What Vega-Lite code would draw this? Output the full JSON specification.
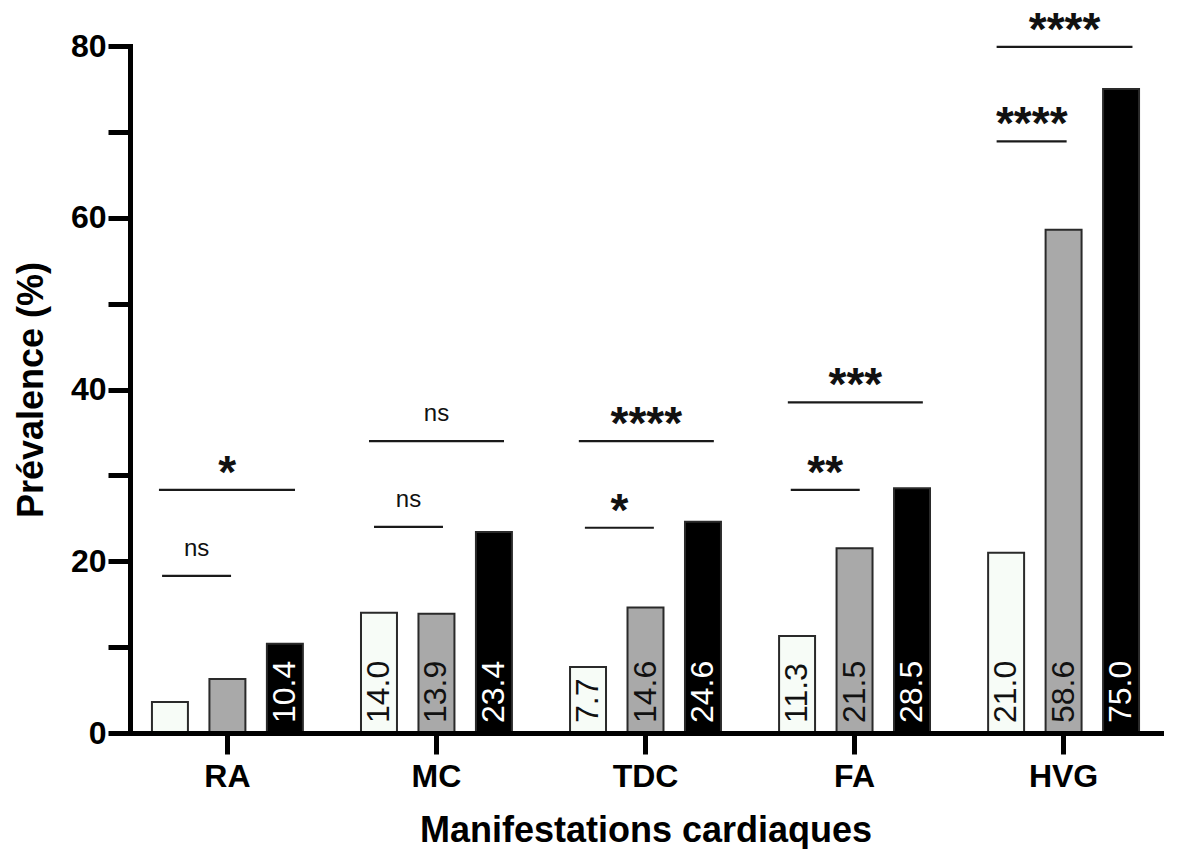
{
  "$schema": "https://vega.github.io/schema/vega-lite/v6.json",
  "width": 1031,
  "height": 687,
  "autosize": "none",
  "padding": {"left": 130, "top": 46, "right": 25, "bottom": 116},
  "background": "white",
  "config": {"view": {"stroke": null}, "font": "Liberation Sans"},
  "datasets": {
    "barres": [
      {"manifestation": "RA", "groupe": "G1", "prevalence": 3.6},
      {"manifestation": "RA", "groupe": "G2", "prevalence": 6.3},
      {"manifestation": "RA", "groupe": "G3", "prevalence": 10.4},
      {"manifestation": "MC", "groupe": "G1", "prevalence": 14.0},
      {"manifestation": "MC", "groupe": "G2", "prevalence": 13.9},
      {"manifestation": "MC", "groupe": "G3", "prevalence": 23.4},
      {"manifestation": "TDC", "groupe": "G1", "prevalence": 7.7},
      {"manifestation": "TDC", "groupe": "G2", "prevalence": 14.6},
      {"manifestation": "TDC", "groupe": "G3", "prevalence": 24.6},
      {"manifestation": "FA", "groupe": "G1", "prevalence": 11.3},
      {"manifestation": "FA", "groupe": "G2", "prevalence": 21.5},
      {"manifestation": "FA", "groupe": "G3", "prevalence": 28.5},
      {"manifestation": "HVG", "groupe": "G1", "prevalence": 21.0},
      {"manifestation": "HVG", "groupe": "G2", "prevalence": 58.6},
      {"manifestation": "HVG", "groupe": "G3", "prevalence": 75.0}
    ],
    "signif": [
      {"manifestation": "RA", "debut": -0.313, "fin": 0.017, "centre": -0.148, "niveau": 18.3, "label": "ns"},
      {"manifestation": "RA", "debut": -0.328, "fin": 0.323, "centre": -0.002, "niveau": 28.3, "label": "*"},
      {"manifestation": "MC", "debut": 0.701, "fin": 1.031, "centre": 0.866, "niveau": 24.0, "label": "ns"},
      {"manifestation": "MC", "debut": 0.677, "fin": 1.323, "centre": 1.0, "niveau": 34.0, "label": "ns"},
      {"manifestation": "TDC", "debut": 1.71, "fin": 2.04, "centre": 1.875, "niveau": 23.9, "label": "*"},
      {"manifestation": "TDC", "debut": 1.681, "fin": 2.327, "centre": 2.004, "niveau": 34.0, "label": "****"},
      {"manifestation": "FA", "debut": 2.695, "fin": 3.025, "centre": 2.86, "niveau": 28.3, "label": "**"},
      {"manifestation": "FA", "debut": 2.681, "fin": 3.327, "centre": 3.004, "niveau": 38.5, "label": "***"},
      {"manifestation": "HVG", "debut": 3.68, "fin": 4.015, "centre": 3.848, "niveau": 68.9, "label": "****"},
      {"manifestation": "HVG", "debut": 3.68, "fin": 4.33, "centre": 4.005, "niveau": 79.9, "label": "****"}
    ]
  },
  "layer": [
    {
      "data": {"name": "barres"},
      "layer": [
        {
          "mark": {"type": "bar", "stroke": "#2a2a2a", "strokeWidth": 2},
          "encoding": {
            "x": {
              "field": "manifestation", "type": "nominal",
              "sort": ["RA", "MC", "TDC", "FA", "HVG"],
              "scale": {"paddingInner": 0.278, "paddingOuter": 0.105},
              "axis": {
                "title": "Manifestations cardiaques",
                "labelAngle": 0,
                "domainWidth": 5, "domainColor": "black", "domainCap": "square",
                "tickWidth": 5, "tickColor": "black", "tickSize": 21,
                "labelFont": "Liberation Sans", "labelFontWeight": "bold", "labelFontSize": 32, "labelColor": "black", "labelPadding": 7,
                "titleFont": "Liberation Sans", "titleFontWeight": "bold", "titleFontSize": 36, "titleColor": "black", "titlePadding": 21,
                "zindex": 2
              }
            },
            "xOffset": {
              "field": "groupe", "type": "nominal",
              "scale": {"domain": ["G1", "G2", "G3"], "paddingInner": 0.374, "paddingOuter": 0}
            },
            "y": {
              "field": "prevalence", "type": "quantitative",
              "scale": {"domain": [0, 80], "nice": false},
              "axis": {
                "title": "Prévalence (%)",
                "values": [0, 10, 20, 30, 40, 50, 60, 70, 80],
                "labelExpr": "datum.value % 20 === 0 ? datum.label : ''",
                "grid": false,
                "domainWidth": 5, "domainColor": "black", "domainCap": "square",
                "tickWidth": 5, "tickColor": "black", "tickSize": 22,
                "labelFont": "Liberation Sans", "labelFontWeight": "bold", "labelFontSize": 32, "labelColor": "black", "labelPadding": 2,
                "titleFont": "Liberation Sans", "titleFontWeight": "bold", "titleFontSize": 36, "titleColor": "black", "titlePadding": 20,
                "zindex": 2,
                "encode": {"ticks": {"update": {"x2": {"signal": "datum.value % 20 === 0 ? -22 : -13"}}}}
              }
            },
            "fill": {
              "field": "groupe", "type": "nominal",
              "scale": {"domain": ["G1", "G2", "G3"], "range": ["#f7fcf7", "#a9a9a9", "#000000"]},
              "legend": null
            }
          }
        },
        {
          "transform": [{"filter": "datum.prevalence >= 7"}],
          "mark": {"type": "text", "angle": 270, "align": "left", "baseline": "middle", "yOffset": -10, "font": "Liberation Sans Narrow, Arial Narrow, Liberation Sans", "fontSize": 32},
          "encoding": {
            "x": {"field": "manifestation", "type": "nominal", "sort": ["RA", "MC", "TDC", "FA", "HVG"]},
            "xOffset": {"field": "groupe", "type": "nominal", "scale": {"domain": ["G1", "G2", "G3"]}},
            "y": {"datum": 0, "type": "quantitative"},
            "text": {"field": "prevalence", "type": "quantitative", "format": ".1f"},
            "color": {"condition": {"test": "datum.groupe === 'G3'", "value": "white"}, "value": "#111111"}
          }
        }
      ]
    },
    {
      "data": {"name": "signif"},
      "layer": [
        {
          "mark": {"type": "rule", "strokeWidth": 2.2, "color": "#1a1a1a"},
          "encoding": {
            "x": {"field": "debut", "type": "quantitative", "scale": {"domain": [-0.4665, 4.4665], "nice": false, "zero": false}, "axis": null},
            "x2": {"field": "fin"},
            "y": {"field": "niveau", "type": "quantitative", "title": "Prévalence (%)"}
          }
        },
        {
          "transform": [{"filter": "datum.label === 'ns'"}],
          "mark": {"type": "text", "baseline": "alphabetic", "align": "center", "yOffset": -20, "fontSize": 24, "font": "Liberation Sans", "color": "#111111"},
          "encoding": {
            "x": {"field": "centre", "type": "quantitative", "scale": {"domain": [-0.4665, 4.4665], "nice": false, "zero": false}, "axis": null},
            "y": {"field": "niveau", "type": "quantitative", "title": "Prévalence (%)"},
            "text": {"field": "label"}
          }
        },
        {
          "transform": [{"filter": "datum.label !== 'ns'"}],
          "mark": {"type": "text", "baseline": "alphabetic", "align": "center", "yOffset": -2, "fontSize": 46, "fontWeight": "bold", "font": "Liberation Sans", "color": "#111111"},
          "encoding": {
            "x": {"field": "centre", "type": "quantitative", "scale": {"domain": [-0.4665, 4.4665], "nice": false, "zero": false}, "axis": null},
            "y": {"field": "niveau", "type": "quantitative", "title": "Prévalence (%)"},
            "text": {"field": "label"}
          }
        }
      ]
    }
  ],
  "resolve": {"scale": {"x": "independent"}, "axis": {"x": "independent"}}
}
